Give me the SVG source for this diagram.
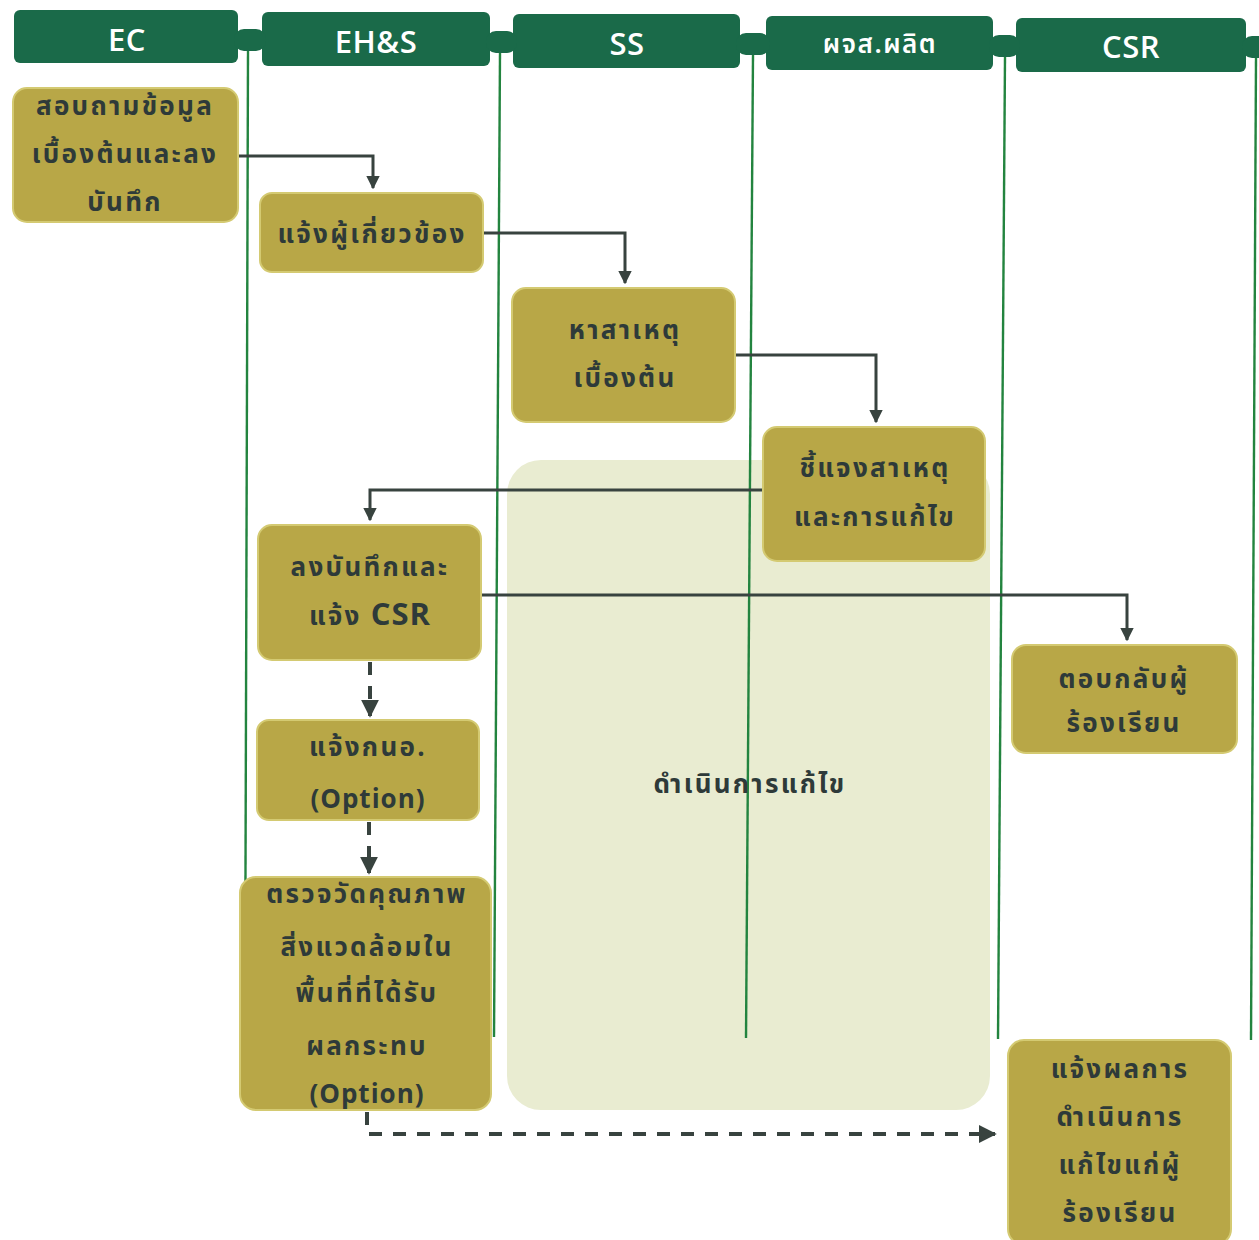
<svg xmlns="http://www.w3.org/2000/svg" width="1259" height="1240" viewBox="0 0 1259 1240">
  <style>
    .hdr { fill: #1a6a49; }
    .hdr-text { fill: #ffffff; font-family: "Open Sans", "Noto Sans", "Noto Sans Thai", sans-serif; font-size: 31px; font-weight: 600; text-anchor: middle; letter-spacing: 0.5px; }
    .lane { stroke: #23843f; stroke-width: 2.4; fill: none; }
    .box { fill: #b8a747; stroke: #d4ca72; stroke-width: 2; }
    .txt { fill: #2e3a39; font-family: "Noto Sans Thai", "Tahoma", "DejaVu Sans", sans-serif; font-size: 26px; font-weight: 700; text-anchor: middle; letter-spacing: 2.3px; }
    .lat { font-family: "Open Sans", "Noto Sans", sans-serif; font-weight: 700; letter-spacing: 1px; }
    .flow { stroke: #38433f; stroke-width: 3; fill: none; }
    .dash { stroke-dasharray: 13 11; stroke-width: 4; }
    .zone { fill: #e9ecd1; }
  </style>
  <defs>
    <marker id="arrow" viewBox="0 0 10 10" refX="9" refY="5" markerWidth="4.5" markerHeight="4.5" orient="auto" markerUnits="strokeWidth">
      <path d="M0,0 L10,5 L0,10 z" fill="#38433f"/>
    </marker>
  </defs>

  <rect width="1259" height="1240" fill="#ffffff"/>

  <!-- lane headers -->
  <g id="headers">
    <g id="hdr-ec">
      <rect class="hdr" x="14" y="10" width="224" height="53" rx="6"/>
      <text class="hdr-text" x="127" y="51">EC</text>
    </g>
    <g id="hdr-ehs">
      <rect class="hdr" x="262" y="12" width="228" height="54" rx="6"/>
      <text class="hdr-text" x="376" y="53">EH&amp;S</text>
    </g>
    <g id="hdr-ss">
      <rect class="hdr" x="513" y="14" width="227" height="54" rx="6"/>
      <text class="hdr-text" x="627" y="55">SS</text>
    </g>
    <g id="hdr-prod">
      <rect class="hdr" x="766" y="16" width="227" height="54" rx="6"/>
      <text class="hdr-text" x="880" y="53" style="font-family: 'Noto Sans Thai', Tahoma, sans-serif; font-weight: 600; font-size: 26px; letter-spacing: 1.5px;">ผจส.ผลิต</text>
    </g>
    <g id="hdr-csr">
      <rect class="hdr" x="1016" y="18" width="230" height="54" rx="6"/>
      <text class="hdr-text" x="1131" y="58">CSR</text>
    </g>
    <!-- joints between headers -->
    <rect class="hdr" x="234" y="29" width="32" height="22" rx="10"/>
    <rect class="hdr" x="486" y="31" width="31" height="22" rx="10"/>
    <rect class="hdr" x="736" y="33" width="34" height="22" rx="10"/>
    <rect class="hdr" x="989" y="35" width="31" height="22" rx="10"/>
    <rect class="hdr" x="1242" y="36" width="30" height="22" rx="10"/>
  </g>

  <!-- shared work area -->
  <g id="zone-fix">
    <rect class="zone" x="507" y="460" width="483" height="650" rx="34"/>
  </g>

  <!-- lane dividers -->
  <g id="lanes">
    <line class="lane" x1="248" y1="51" x2="245" y2="1035"/>
    <line class="lane" x1="500" y1="53" x2="494" y2="1037"/>
    <line class="lane" x1="753" y1="55" x2="746" y2="1038"/>
    <line class="lane" x1="1005" y1="57" x2="998" y2="1039"/>
    <line class="lane" x1="1256" y1="58" x2="1251" y2="1040"/>
  </g>

  <g id="zone-label">
    <text class="txt" x="750" y="793">ดำเนินการแก้ไข</text>
  </g>

  <!-- connectors -->
  <g id="connectors">
    <path class="flow" d="M238,156 H373 V188" marker-end="url(#arrow)"/>
    <path class="flow" d="M483,233 H625 V283" marker-end="url(#arrow)"/>
    <path class="flow" d="M735,355 H876 V422" marker-end="url(#arrow)"/>
    <path class="flow" d="M763,490 H370 V520" marker-end="url(#arrow)"/>
    <path class="flow" d="M481,595 H1127 V640" marker-end="url(#arrow)"/>
    <path class="flow dash" d="M370,662 V716" marker-end="url(#arrow)"/>
    <path class="flow dash" d="M369,822 V873" marker-end="url(#arrow)"/>
    <path class="flow dash" d="M367,1112 V1134 H995" marker-end="url(#arrow)"/>
  </g>

  <!-- process steps -->
  <g id="n-inquire">
    <rect class="box" x="13" y="88" width="225" height="134" rx="14"/>
    <text class="txt" x="125" y="115">สอบถามข้อมูล</text>
    <text class="txt" x="125" y="163">เบื้องต้นและลง</text>
    <text class="txt" x="125" y="211">บันทึก</text>
  </g>
  <g id="n-notify">
    <rect class="box" x="260" y="193" width="223" height="79" rx="12"/>
    <text class="txt" x="372" y="243">แจ้งผู้เกี่ยวข้อง</text>
  </g>
  <g id="n-cause">
    <rect class="box" x="512" y="288" width="223" height="134" rx="14"/>
    <text class="txt" x="625" y="339">หาสาเหตุ</text>
    <text class="txt" x="625" y="387">เบื้องต้น</text>
  </g>
  <g id="n-explain">
    <rect class="box" x="763" y="427" width="222" height="134" rx="14"/>
    <text class="txt" x="875" y="477">ชี้แจงสาเหตุ</text>
    <text class="txt" x="875" y="526">และการแก้ไข</text>
  </g>
  <g id="n-record">
    <rect class="box" x="258" y="525" width="223" height="135" rx="14"/>
    <text class="txt" x="370" y="576">ลงบันทึกและ</text>
    <text class="txt" x="370" y="625">แจ้ง <tspan class="lat" font-size="31">CSR</tspan></text>
  </g>
  <g id="n-ieat">
    <rect class="box" x="257" y="720" width="222" height="100" rx="12"/>
    <text class="txt" x="368" y="756">แจ้งกนอ.</text>
    <text class="txt lat" x="368" y="808" font-size="34">(Option)</text>
  </g>
  <g id="n-measure">
    <rect class="box" x="240" y="877" width="251" height="233" rx="16"/>
    <text class="txt" x="367" y="903">ตรวจวัดคุณภาพ</text>
    <text class="txt" x="367" y="956">สิ่งแวดล้อมใน</text>
    <text class="txt" x="367" y="1002">พื้นที่ที่ได้รับ</text>
    <text class="txt" x="367" y="1055">ผลกระทบ</text>
    <text class="txt lat" x="367" y="1103" font-size="34">(Option)</text>
  </g>
  <g id="n-reply">
    <rect class="box" x="1012" y="645" width="225" height="108" rx="14"/>
    <text class="txt" x="1124" y="688">ตอบกลับผู้</text>
    <text class="txt" x="1124" y="732">ร้องเรียน</text>
  </g>
  <g id="n-result">
    <rect class="box" x="1008" y="1040" width="223" height="205" rx="16"/>
    <text class="txt" x="1120" y="1078">แจ้งผลการ</text>
    <text class="txt" x="1120" y="1126">ดำเนินการ</text>
    <text class="txt" x="1120" y="1174">แก้ไขแก่ผู้</text>
    <text class="txt" x="1120" y="1222">ร้องเรียน</text>
  </g>
</svg>
